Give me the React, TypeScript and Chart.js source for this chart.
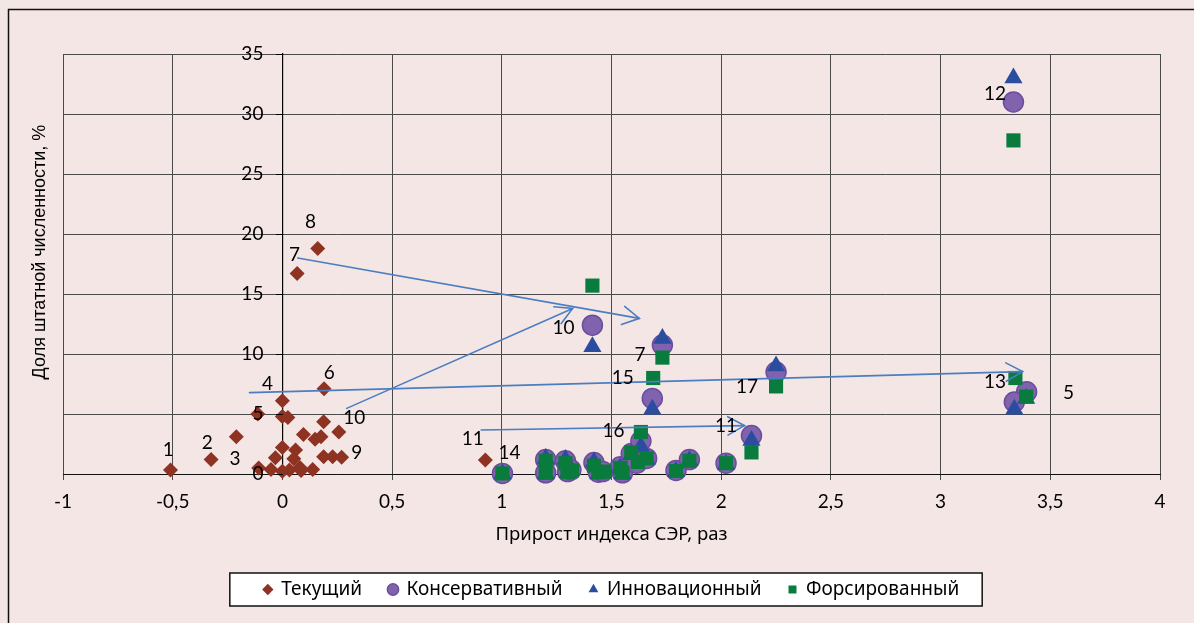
import React, { useEffect, useRef } from "react";
import { Chart, registerables } from "chart.js";

Chart.register(...registerables);

// ---------- DATA ----------
const seriesNames = ["Текущий", "Консервативный", "Инновационный", "Форсированный"];

const currentPts: [number, number][] = [
  [-0.51, 0.33], [-0.325, 1.2], [-0.21, 3.1], [-0.112, 5.0], [0.0, 6.1], [0.0, 4.8],
  [0.025, 4.7], [0.067, 16.7], [0.161, 18.8], [0.19, 7.1], [0.188, 4.35], [0.096, 3.3],
  [0.149, 2.9], [0.176, 3.1], [0.257, 3.5], [0.0, 2.2], [0.06, 2.0], [-0.032, 1.36],
  [0.052, 1.28], [0.188, 1.44], [0.229, 1.44], [0.27, 1.4], [-0.108, 0.5], [-0.052, 0.38],
  [0.0, 0.22], [0.032, 0.33], [0.08, 0.55], [0.085, 0.3], [0.138, 0.38], [0.925, 1.17],
];

const conservativePts: [number, number][] = [
  [1.003, 0.05], [1.2, 1.2], [1.2, 0.1], [1.29, 1.1], [1.3, 0.2], [1.315, 0.35],
  [1.42, 0.95], [1.44, 0.15], [1.46, 0.2], [1.54, 0.6], [1.55, 0.1], [1.59, 1.7],
  [1.615, 0.9], [1.634, 2.75], [1.66, 1.3], [1.794, 0.3], [1.855, 1.2], [2.022, 0.9],
  [2.138, 3.2], [1.686, 6.3], [1.413, 12.4], [1.732, 10.75], [2.25, 8.5], [3.332, 31.0],
  [3.392, 6.85], [3.336, 6.0],
];

const innovativePts: [number, number][] = [
  [1.003, 0.0], [1.2, 1.3], [1.2, 0.0], [1.29, 1.2], [1.3, 0.1], [1.42, 1.0],
  [1.44, 0.0], [1.54, 0.5], [1.55, 0.0], [1.59, 1.6], [1.634, 2.3], [1.66, 1.2],
  [1.794, 0.2], [1.855, 1.1], [2.022, 0.8], [2.138, 2.8], [1.686, 5.4], [1.413, 10.6],
  [1.732, 11.3], [2.25, 9.0], [3.332, 33.0], [3.39, 6.3], [3.336, 5.4],
];

const forcedPts: [number, number][] = [
  [1.003, 0.05], [1.2, 1.1], [1.2, 0.1], [1.29, 0.9], [1.3, 0.15], [1.32, 0.3],
  [1.42, 0.7], [1.44, 0.15], [1.47, 0.2], [1.54, 0.5], [1.55, 0.1], [1.59, 1.8],
  [1.62, 1.0], [1.634, 3.5], [1.66, 1.3], [1.794, 0.25], [1.855, 1.1], [2.022, 0.9],
  [2.138, 1.8], [1.69, 8.0], [1.413, 15.7], [1.732, 9.7], [2.25, 7.3], [3.332, 27.8],
  [3.341, 8.0], [3.39, 6.45],
];

const pointLabels: [string, number, number][] = [
  ["1", -0.52, 2.0], ["2", -0.343, 2.6], ["3", -0.216, 1.3], ["4", -0.068, 7.5],
  ["6", 0.214, 8.42], ["7", 0.055, 18.25], ["8", 0.128, 21.0], ["9", 0.339, 1.8],
  ["10", 0.328, 4.64], ["11", 0.868, 2.89], ["14", 1.035, 1.78], ["10", 1.281, 12.2],
  ["7", 1.63, 9.9], ["15", 1.551, 7.97], ["17", 2.118, 7.22], ["16", 1.509, 3.58],
  ["11", 2.022, 4.05], ["12", 3.248, 31.67], ["13", 3.248, 7.7], ["5", 3.583, 6.8],
];

const arrowFrom: [number, number][] = [[0.07, 18.0], [0.293, 5.47], [-0.15, 6.78], [0.906, 3.67]];
const arrowTo: [number, number][] = [[1.627, 12.97], [1.323, 13.8], [3.374, 8.53], [2.106, 4.03]];

const xMin = -1, xMax = 4, xStep = 0.5;
const yMin = 0, yMax = 35, yStep = 5;

const xTitle = "Прирост индекса СЭР, раз";
const yTitle = "Доля штатной численности, %";

// ---------- STYLE ----------
const W = 1194, H = 623;
const PAD_BOTTOM = 14;
const PAGE_BG = "#F5E6E6";
const GRID = "#4a4a4a";
const NUM_FONT = "Lato, 'Noto Sans', sans-serif";
const TXT_FONT = "'Noto Sans', sans-serif";

const toXY = (a: [number, number][]) => a.map(([x, y]) => ({ x, y }));

const decoPlugin = {
  id: "deco",
  beforeDraw(chart: any) {
    const ctx = chart.ctx;
    ctx.save();
    ctx.fillStyle = PAGE_BG;
    ctx.fillRect(0, 0, chart.width, chart.height);
    ctx.strokeStyle = "#111";
    ctx.lineWidth = 1.5;
    ctx.beginPath();
    ctx.moveTo(8.5, chart.height + 5);
    ctx.lineTo(8.5, 9.5);
    ctx.lineTo(chart.width + 5, 9.5);
    ctx.stroke();
    const hb = chart.legend && chart.legend.legendHitBoxes;
    if (hb && hb.length) {
      const l = Math.min(...hb.map((h: any) => h.left)) - 34;
      const r = Math.max(...hb.map((h: any) => h.left + h.width)) + 23;
      const cy = hb[0].top + hb[0].height / 2;
      ctx.fillStyle = "#fff";
      ctx.fillRect(l, cy - 16.5, r - l, 33);
      ctx.strokeStyle = "#111";
      ctx.lineWidth = 1.5;
      ctx.strokeRect(l, cy - 16.5, r - l, 33);
    }
    ctx.restore();
  },
  afterDatasetsDraw(chart: any) {
    const ctx = chart.ctx;
    const xs = chart.scales.x, ys = chart.scales.y;
    ctx.save();
    // arrows
    ctx.strokeStyle = "#4A7EC0";
    ctx.lineWidth = 1.6;
    ctx.lineCap = "round";
    arrowFrom.forEach((f, i) => {
      const t = arrowTo[i];
      const x1 = xs.getPixelForValue(f[0]), y1 = ys.getPixelForValue(f[1]);
      const x2 = xs.getPixelForValue(t[0]), y2 = ys.getPixelForValue(t[1]);
      ctx.beginPath();
      ctx.moveTo(x1, y1);
      ctx.lineTo(x2, y2);
      ctx.stroke();
      const ang = Math.atan2(y2 - y1, x2 - x1);
      const L = 19, a = Math.PI / 6.2;
      ctx.beginPath();
      ctx.moveTo(x2 - L * Math.cos(ang - a), y2 - L * Math.sin(ang - a));
      ctx.lineTo(x2, y2);
      ctx.lineTo(x2 - L * Math.cos(ang + a), y2 - L * Math.sin(ang + a));
      ctx.stroke();
    });
    // point labels
    ctx.fillStyle = "#000";
    ctx.font = `19px ${NUM_FONT}`;
    ctx.textAlign = "center";
    ctx.textBaseline = "middle";
    pointLabels.forEach(([t, x, y]) => {
      ctx.fillText(t, xs.getPixelForValue(x), ys.getPixelForValue(y));
    });
    // y tick labels and tick marks beside the axis that crosses at x = 0
    const ax = xs.getPixelForValue(0);
    ctx.textAlign = "right";
    ctx.strokeStyle = "#000";
    ctx.lineWidth = 1;
    ys.ticks.forEach((tk: any) => {
      const py = ys.getPixelForValue(tk.value);
      ctx.fillText(String(tk.value), ax - 19, py);
      ctx.beginPath();
      ctx.moveTo(ax - 6, Math.round(py) + 0.5);
      ctx.lineTo(ax, Math.round(py) + 0.5);
      ctx.stroke();
    });
    ctx.restore();
  },
  afterDraw(chart: any) {
    const ctx = chart.ctx;
    const ca = chart.chartArea;
    ctx.save();
    ctx.fillStyle = "#000";
    ctx.textAlign = "center";
    ctx.textBaseline = "middle";
    ctx.font = `18.5px ${TXT_FONT}`;
    ctx.fillText(xTitle, (ca.left + ca.right) / 2, ca.bottom + 61);
    ctx.translate(40, (ca.top + ca.bottom) / 2 - 12);
    ctx.rotate(-Math.PI / 2);
    ctx.font = `18px 'Liberation Sans', Arial, sans-serif`;
    ctx.fillText(yTitle, 0, 0);
    ctx.restore();
  },
};

export default function App() {
  const ref = useRef<HTMLCanvasElement | null>(null);
  useEffect(() => {
    if (!ref.current) return;
    const chart = new Chart(ref.current, {
      type: "scatter",
      data: {
        datasets: [
          {
            label: seriesNames[0],
            data: toXY(currentPts),
            pointStyle: "rectRot",
            pointRadius: 7.5,
            backgroundColor: "#8E3222",
            borderColor: "#8E3222",
            borderWidth: 0,
            order: 3,
            clip: false,
          } as any,
          {
            label: seriesNames[1],
            data: toXY(conservativePts),
            pointStyle: "circle",
            pointRadius: 10,
            backgroundColor: "#8062AE",
            borderColor: "#6A4D9C",
            borderWidth: 1.5,
            order: 2,
            clip: false,
          },
          {
            label: seriesNames[2],
            data: toXY(innovativePts),
            pointStyle: "triangle",
            pointRadius: 10.5,
            backgroundColor: "#2B4DA0",
            borderColor: "#2B4DA0",
            borderWidth: 0,
            order: 1,
            clip: false,
          },
          {
            label: seriesNames[3],
            data: toXY(forcedPts),
            pointStyle: "rect",
            pointRadius: 10,
            backgroundColor: "#097C3D",
            borderColor: "#097C3D",
            borderWidth: 0,
            order: 0,
            clip: false,
          },
        ],
      },
      options: {
        animation: false,
        responsive: false,
        devicePixelRatio: 1,
        layout: { padding: { left: 63, top: 54, right: 34, bottom: PAD_BOTTOM } },
        plugins: {
          legend: {
            position: "bottom",
            labels: {
              usePointStyle: true,
              boxWidth: 8,
              boxHeight: 8,
              padding: 27,
              color: "#000",
              font: { family: TXT_FONT, size: 19 },
              sort: (a: any, b: any) => a.datasetIndex - b.datasetIndex,
            },
          },
          tooltip: { enabled: false },
        },
        scales: {
          x: {
            type: "linear",
            min: xMin,
            max: xMax,
            position: "bottom",
            ticks: {
              stepSize: xStep,
              color: "#000",
              font: { family: NUM_FONT, size: 19 },
              padding: 10,
              maxRotation: 0,
              autoSkip: false,
              callback: (v: any) => String(v).replace(".", ","),
            },
            grid: { color: GRID, lineWidth: 1, tickLength: 6, drawTicks: true },
            border: { color: "#111", width: 1 },
            afterFit: (s: any) => {
              const lg = s.chart.legend;
              s.height = H - 474 - PAD_BOTTOM - (lg ? lg.height : 0);
            },
          },
          y: {
            type: "linear",
            min: yMin,
            max: yMax,
            position: { x: 0 } as any,
            ticks: {
              stepSize: yStep,
              display: false,
            },
            grid: { color: GRID, lineWidth: 1, tickLength: 6, drawTicks: true },
            border: { color: "#000", width: 1.2 },
          },
        },
      },
      plugins: [decoPlugin],
    });
    return () => chart.destroy();
  }, []);
  return (
    <div style={{ position: "fixed", left: 0, top: 0, width: W, height: H, background: PAGE_BG }}>
      <canvas ref={ref} width={W} height={H} style={{ width: W, height: H, display: "block" }} />
    </div>
  );
}
